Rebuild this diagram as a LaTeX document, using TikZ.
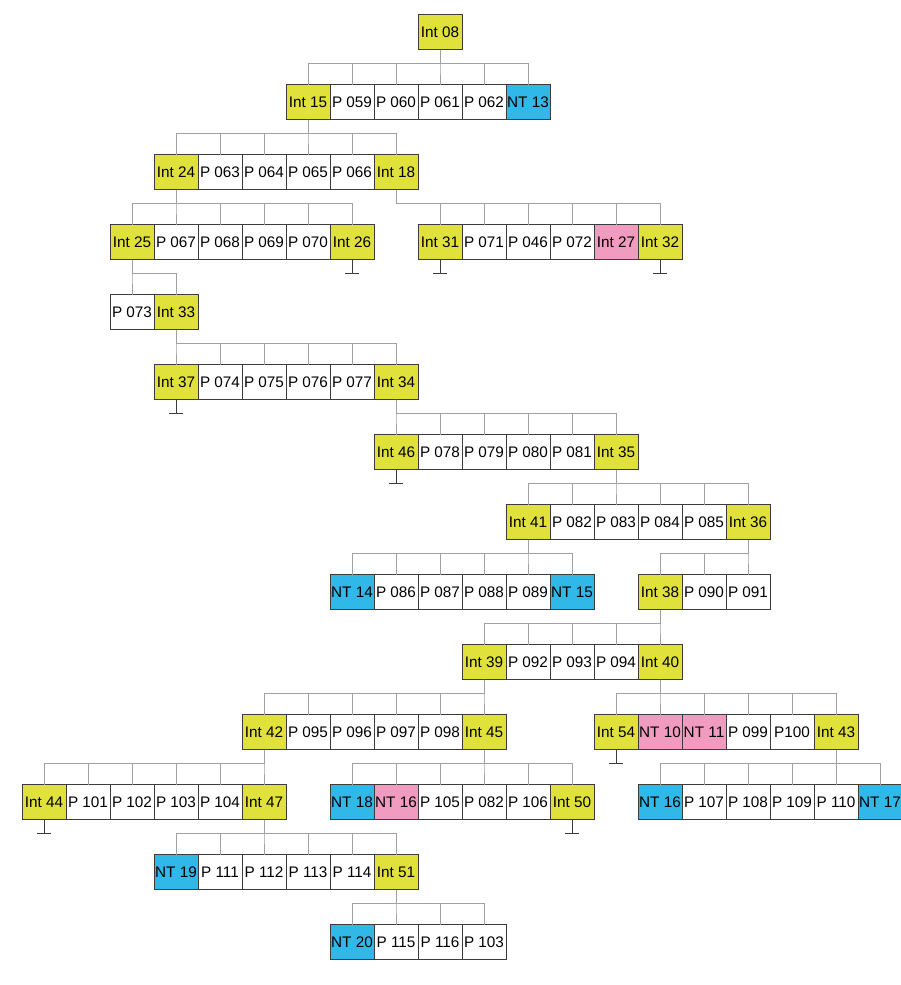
\documentclass[tikz,border=0pt]{standalone}
\usepackage{fontspec}
\setmainfont{Liberation Sans}
\usepackage{tikz}
\usetikzlibrary{positioning}
\definecolor{intyellow}{HTML}{E1E13C}
\definecolor{ntcyan}{HTML}{30B8E8}
\definecolor{ntpink}{HTML}{F29BC0}
\definecolor{boxline}{HTML}{3C3C3C}
\definecolor{linkgray}{HTML}{A0A0A0}

\begin{document}
\begin{tikzpicture}[x=1pt, y=1pt,
  cell/.style={draw=boxline, fill=white, line width=0.9pt, minimum width=44pt,
    minimum height=35pt, inner sep=0pt, outer sep=0pt,
    font=\fontsize{15.3}{17}\selectfont},
  intn/.style={cell, fill=intyellow},
  ntc/.style={cell, fill=ntcyan},
  ntp/.style={cell, fill=ntpink},
  link/.style={draw=linkgray, line width=0.9pt},
  term/.style={draw=boxline, line width=0.9pt}
]
\useasboundingbox[fill=white] (0,0) rectangle (901,-985);

% row 0
\node[intn] (i08) at (440,-32) {Int 08};
% row 1
\node[intn] (i15) at (308,-102) {Int 15};
\node[cell, right=0pt of i15] (p059) {P 059};
\node[cell, right=0pt of p059] (p060) {P 060};
\node[cell, right=0pt of p060] (p061) {P 061};
\node[cell, right=0pt of p061] (p062) {P 062};
\node[ntc, right=0pt of p062] (nt13) {NT 13};
% row 2
\node[intn] (i24) at (176,-172) {Int 24};
\node[cell, right=0pt of i24] (p063) {P 063};
\node[cell, right=0pt of p063] (p064) {P 064};
\node[cell, right=0pt of p064] (p065) {P 065};
\node[cell, right=0pt of p065] (p066) {P 066};
\node[intn, right=0pt of p066] (i18) {Int 18};
% row 3
\node[intn] (i25) at (132,-242) {Int 25};
\node[cell, right=0pt of i25] (p067) {P 067};
\node[cell, right=0pt of p067] (p068) {P 068};
\node[cell, right=0pt of p068] (p069) {P 069};
\node[cell, right=0pt of p069] (p070) {P 070};
\node[intn, right=0pt of p070] (i26) {Int 26};
\node[intn] (i31) at (440,-242) {Int 31};
\node[cell, right=0pt of i31] (p071) {P 071};
\node[cell, right=0pt of p071] (p046) {P 046};
\node[cell, right=0pt of p046] (p072) {P 072};
\node[ntp, right=0pt of p072] (i27) {Int 27};
\node[intn, right=0pt of i27] (i32) {Int 32};
% row 4
\node[cell] (p073) at (132,-312) {P 073};
\node[intn, right=0pt of p073] (i33) {Int 33};
% row 5
\node[intn] (i37) at (176,-382) {Int 37};
\node[cell, right=0pt of i37] (p074) {P 074};
\node[cell, right=0pt of p074] (p075) {P 075};
\node[cell, right=0pt of p075] (p076) {P 076};
\node[cell, right=0pt of p076] (p077) {P 077};
\node[intn, right=0pt of p077] (i34) {Int 34};
% row 6
\node[intn] (i46) at (396,-452) {Int 46};
\node[cell, right=0pt of i46] (p078) {P 078};
\node[cell, right=0pt of p078] (p079) {P 079};
\node[cell, right=0pt of p079] (p080) {P 080};
\node[cell, right=0pt of p080] (p081) {P 081};
\node[intn, right=0pt of p081] (i35) {Int 35};
% row 7
\node[intn] (i41) at (528,-522) {Int 41};
\node[cell, right=0pt of i41] (p082) {P 082};
\node[cell, right=0pt of p082] (p083) {P 083};
\node[cell, right=0pt of p083] (p084) {P 084};
\node[cell, right=0pt of p084] (p085) {P 085};
\node[intn, right=0pt of p085] (i36) {Int 36};
% row 8
\node[ntc] (nt14) at (352,-592) {NT 14};
\node[cell, right=0pt of nt14] (p086) {P 086};
\node[cell, right=0pt of p086] (p087) {P 087};
\node[cell, right=0pt of p087] (p088) {P 088};
\node[cell, right=0pt of p088] (p089) {P 089};
\node[ntc, right=0pt of p089] (nt15) {NT 15};
\node[intn] (i38) at (660,-592) {Int 38};
\node[cell, right=0pt of i38] (p090) {P 090};
\node[cell, right=0pt of p090] (p091) {P 091};
% row 9
\node[intn] (i39) at (484,-662) {Int 39};
\node[cell, right=0pt of i39] (p092) {P 092};
\node[cell, right=0pt of p092] (p093) {P 093};
\node[cell, right=0pt of p093] (p094) {P 094};
\node[intn, right=0pt of p094] (i40) {Int 40};
% row 10
\node[intn] (i42) at (264,-732) {Int 42};
\node[cell, right=0pt of i42] (p095) {P 095};
\node[cell, right=0pt of p095] (p096) {P 096};
\node[cell, right=0pt of p096] (p097) {P 097};
\node[cell, right=0pt of p097] (p098) {P 098};
\node[intn, right=0pt of p098] (i45) {Int 45};
\node[intn] (i54) at (616,-732) {Int 54};
\node[ntp, right=0pt of i54] (nt10) {NT 10};
\node[ntp, right=0pt of nt10] (nt11) {NT 11};
\node[cell, right=0pt of nt11] (p099) {P 099};
\node[cell, right=0pt of p099] (p100) {P100};
\node[intn, right=0pt of p100] (i43) {Int 43};
% row 11
\node[intn] (i44) at (44,-802) {Int 44};
\node[cell, right=0pt of i44] (p101) {P 101};
\node[cell, right=0pt of p101] (p102) {P 102};
\node[cell, right=0pt of p102] (p103) {P 103};
\node[cell, right=0pt of p103] (p104) {P 104};
\node[intn, right=0pt of p104] (i47) {Int 47};
\node[ntc] (nt18) at (352,-802) {NT 18};
\node[ntp, right=0pt of nt18] (nt16) {NT 16};
\node[cell, right=0pt of nt16] (p105) {P 105};
\node[cell, right=0pt of p105] (p082b) {P 082};
\node[cell, right=0pt of p082b] (p106) {P 106};
\node[intn, right=0pt of p106] (i50) {Int 50};
\node[ntc] (nt16b) at (660,-802) {NT 16};
\node[cell, right=0pt of nt16b] (p107) {P 107};
\node[cell, right=0pt of p107] (p108) {P 108};
\node[cell, right=0pt of p108] (p109) {P 109};
\node[cell, right=0pt of p109] (p110) {P 110};
\node[ntc, right=0pt of p110] (nt17) {NT 17};
% row 12
\node[ntc] (nt19) at (176,-872) {NT 19};
\node[cell, right=0pt of nt19] (p111) {P 111};
\node[cell, right=0pt of p111] (p112) {P 112};
\node[cell, right=0pt of p112] (p113) {P 113};
\node[cell, right=0pt of p113] (p114) {P 114};
\node[intn, right=0pt of p114] (i51) {Int 51};
% row 13
\node[ntc] (nt20) at (352,-942) {NT 20};
\node[cell, right=0pt of nt20] (p115) {P 115};
\node[cell, right=0pt of p115] (p116) {P 116};
\node[cell, right=0pt of p116] (p103b) {P 103};

% links, parent -> children
\foreach \k in {i15,p059,p060,p061,p062,nt13}
  \draw[link] (i08.south) -- ++(0,-14) -| (\k.north);
\foreach \k in {i24,p063,p064,p065,p066,i18}
  \draw[link] (i15.south) -- ++(0,-14) -| (\k.north);
\foreach \k in {i25,p067,p068,p069,p070,i26}
  \draw[link] (i24.south) -- ++(0,-14) -| (\k.north);
\foreach \k in {i31,p071,p046,p072,i27,i32}
  \draw[link] (i18.south) -- ++(0,-14) -| (\k.north);
\foreach \k in {p073,i33}
  \draw[link] (i25.south) -- ++(0,-14) -| (\k.north);
\foreach \k in {i37,p074,p075,p076,p077,i34}
  \draw[link] (i33.south) -- ++(0,-14) -| (\k.north);
\foreach \k in {i46,p078,p079,p080,p081,i35}
  \draw[link] (i34.south) -- ++(0,-14) -| (\k.north);
\foreach \k in {i41,p082,p083,p084,p085,i36}
  \draw[link] (i35.south) -- ++(0,-14) -| (\k.north);
\foreach \k in {nt14,p086,p087,p088,p089,nt15}
  \draw[link] (i41.south) -- ++(0,-14) -| (\k.north);
\foreach \k in {i38,p090,p091}
  \draw[link] (i36.south) -- ++(0,-14) -| (\k.north);
\foreach \k in {i39,p092,p093,p094,i40}
  \draw[link] (i38.south) -- ++(0,-14) -| (\k.north);
\foreach \k in {i42,p095,p096,p097,p098,i45}
  \draw[link] (i39.south) -- ++(0,-14) -| (\k.north);
\foreach \k in {i54,nt10,nt11,p099,p100,i43}
  \draw[link] (i40.south) -- ++(0,-14) -| (\k.north);
\foreach \k in {i44,p101,p102,p103,p104,i47}
  \draw[link] (i42.south) -- ++(0,-14) -| (\k.north);
\foreach \k in {nt18,nt16,p105,p082b,p106,i50}
  \draw[link] (i45.south) -- ++(0,-14) -| (\k.north);
\foreach \k in {nt16b,p107,p108,p109,p110,nt17}
  \draw[link] (i43.south) -- ++(0,-14) -| (\k.north);
\foreach \k in {nt19,p111,p112,p113,p114,i51}
  \draw[link] (i47.south) -- ++(0,-14) -| (\k.north);
\foreach \k in {nt20,p115,p116,p103b}
  \draw[link] (i51.south) -- ++(0,-14) -| (\k.north);

% dead ends
\foreach \k in {i26,i31,i32,i37,i46,i54,i44,i50}
  \draw[term] (\k.south) -- ++(0,-14) ++(-7,0) -- ++(14,0);
\end{tikzpicture}
\end{document}
